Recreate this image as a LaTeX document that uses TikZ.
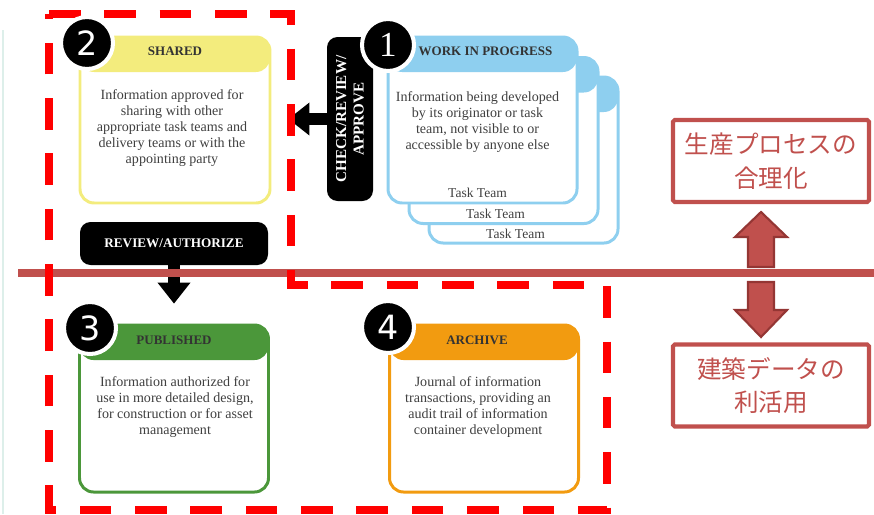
\documentclass[tikz,border=0pt]{standalone}
\usepackage{fontspec}
\setmainfont{Liberation Serif}
\newfontfamily\jpfont{Noto Sans CJK JP}
\newfontfamily\numfont{DejaVu Sans}
\usetikzlibrary{positioning, arrows.meta, calc}

\definecolor{sharedyellow}{HTML}{F3EC7D}
\definecolor{wipblue}{HTML}{8ECFEF}
\definecolor{pubgreen}{HTML}{4B973A}
\definecolor{arcorange}{HTML}{F29B10}
\definecolor{jpred}{HTML}{C0504D}
\definecolor{jpdark}{HTML}{943634}
\definecolor{faintline}{HTML}{DDEFEA}

\newlength\pxl
\setlength\pxl{0.02cm}

\tikzset{
  stagebox/.style={draw=#1, line width=1.7pt, rounded corners=8pt, fill=white,
    minimum width=189\pxl, minimum height=166\pxl, inner sep=0pt,
    path picture={\fill[#1] (path picture bounding box.north west) rectangle ([yshift=-35\pxl]path picture bounding box.north east);}},
  headtxt/.style={font=\bfseries\fontsize{7.4}{8}\selectfont, text=black!80},
  bodytxt/.style={font=\fontsize{8}{9.1}\selectfont, text=black!75, align=center},
  numdot/.style={circle, fill=black, draw=white, line width=2.3pt, minimum size=52\pxl,
    inner sep=0pt, text=white, font=\numfont\fontsize{19}{19}\selectfont},
  blackbox/.style={fill=black, rounded corners=6pt, inner sep=0pt},
  blacktxt/.style={text=white, font=\bfseries\fontsize{7.5}{10}\selectfont, align=center},
  fatarrow/.style={line width=6.8pt, -{Triangle[length=12pt, width=18pt]}},
  scopebox/.style={red, line width=4.5pt, dash pattern=on 18pt off 13.5pt},
  sepline/.style={draw=jpred, line width=4pt},
  jpbox/.style={draw=jpred, line width=2.3pt, text=jpred, font=\jpfont\fontsize{14}{19}\selectfont,
    align=center, minimum width=196\pxl, minimum height=82\pxl, rounded corners=1pt},
  jparrow/.style={fill=jpred, draw=jpdark, line width=1.2pt},
}

\begin{document}
\begin{tikzpicture}[x=0.02cm, y=-0.02cm]
\useasboundingbox (0,0) rectangle (874,514);
\draw [faintline, line width=1pt] (3,30) -- (3,514);

% work in progress, three task teams
\node [stagebox=wipblue] (wip3) at (523.5,160) {};
\node [stagebox=wipblue] (wip2) at (503.5,140.5) {};
\node [stagebox=wipblue] (wip1) at (482.5,120) {};
\node [bodytxt, font=\fontsize{7.7}{9}\selectfont] at ([xshift=-8\pxl, yshift=11\pxl]wip3.south) {Task Team};
\node [bodytxt, font=\fontsize{7.7}{9}\selectfont] at ([xshift=-8\pxl, yshift=11\pxl]wip2.south) {Task Team};
\node [bodytxt, font=\fontsize{7.7}{9}\selectfont] at ([xshift=-5\pxl, yshift=12\pxl]wip1.south) {Task Team};
\node [headtxt] at ([xshift=3\pxl, yshift=-16\pxl]wip1.north) {WORK IN PROGRESS};
\node [bodytxt] at ([xshift=-5\pxl, yshift=-87\pxl]wip1.north) {Information being developed\\by its originator or task\\team, not visible to or\\accessible by anyone else};

% shared
\node [stagebox=sharedyellow, minimum width=190\pxl] (shared) at (175,120) {};
\node [headtxt] at ([yshift=-16\pxl]shared.north) {SHARED};
\node [bodytxt] at ([xshift=-3\pxl, yshift=-93\pxl]shared.north) {Information approved for\\sharing with other\\appropriate task teams and\\delivery teams or with the\\appointing party};

% published and archive
\node [stagebox=pubgreen, minimum height=167\pxl] (published) at (174,408.5) {};
\node [headtxt] at ([yshift=-17\pxl]published.north) {PUBLISHED};
\node [bodytxt] at ([xshift=1\pxl, yshift=-84\pxl]published.north) {Information authorized for\\use in more detailed design,\\for construction or for asset\\management};
\node [stagebox=arcorange, minimum height=167\pxl] (archive) at (484,408.5) {};
\node [headtxt] at ([xshift=-7\pxl, yshift=-17\pxl]archive.north) {ARCHIVE};
\node [bodytxt] at ([xshift=-6\pxl, yshift=-84\pxl]archive.north) {Journal of information\\transactions, providing an\\audit trail of information\\container development};

% transitions
\node [blackbox, minimum width=46\pxl, minimum height=164\pxl] (check) at (350,119) {};
\node [blacktxt, rotate=90, font=\bfseries\fontsize{8.6}{10}\selectfont] at (check) {CHECK/REVIEW/\\APPROVE};
\node [blackbox, minimum width=188\pxl, minimum height=43\pxl] (review) at (174,243.5) {};
\node [blacktxt] at (review) {REVIEW/AUTHORIZE};
\draw [fatarrow, shorten >=9.6pt] (check) -- (check -| shared.east);
\draw [fatarrow, shorten >=11.3pt] (review) -- (review |- published.north);

\draw [sepline] (18,273) -- (874,273);
\draw [scopebox] (49,14) -- (291,14) -- (291,285) -- (607,285) -- (607,510) -- (49,510) -- cycle;

\node [numdot, font=\rmfamily\fontsize{20}{20}\selectfont] (n1) at (388,45) {1};
\node [numdot] (n2) at (87,43) {2};
\node [numdot] (n3) at (90,328) {3};
\node [numdot] (n4) at (388,327) {4};

% right side
\node [jpbox] (jptop) at (771,161) {生産プロセスの\\合理化};
\node [jpbox] (jpbottom) at (771,385.5) {建築データの\\利活用};
\draw [jparrow] (748,267) -- (748,237) -- (735,237) -- (761,212) -- (787,237) -- (774,237) -- (774,267) -- cycle;
\draw [jparrow] (748,282) -- (748,310) -- (735,310) -- (761,337) -- (787,310) -- (774,310) -- (774,282) -- cycle;
\end{tikzpicture}
\end{document}
